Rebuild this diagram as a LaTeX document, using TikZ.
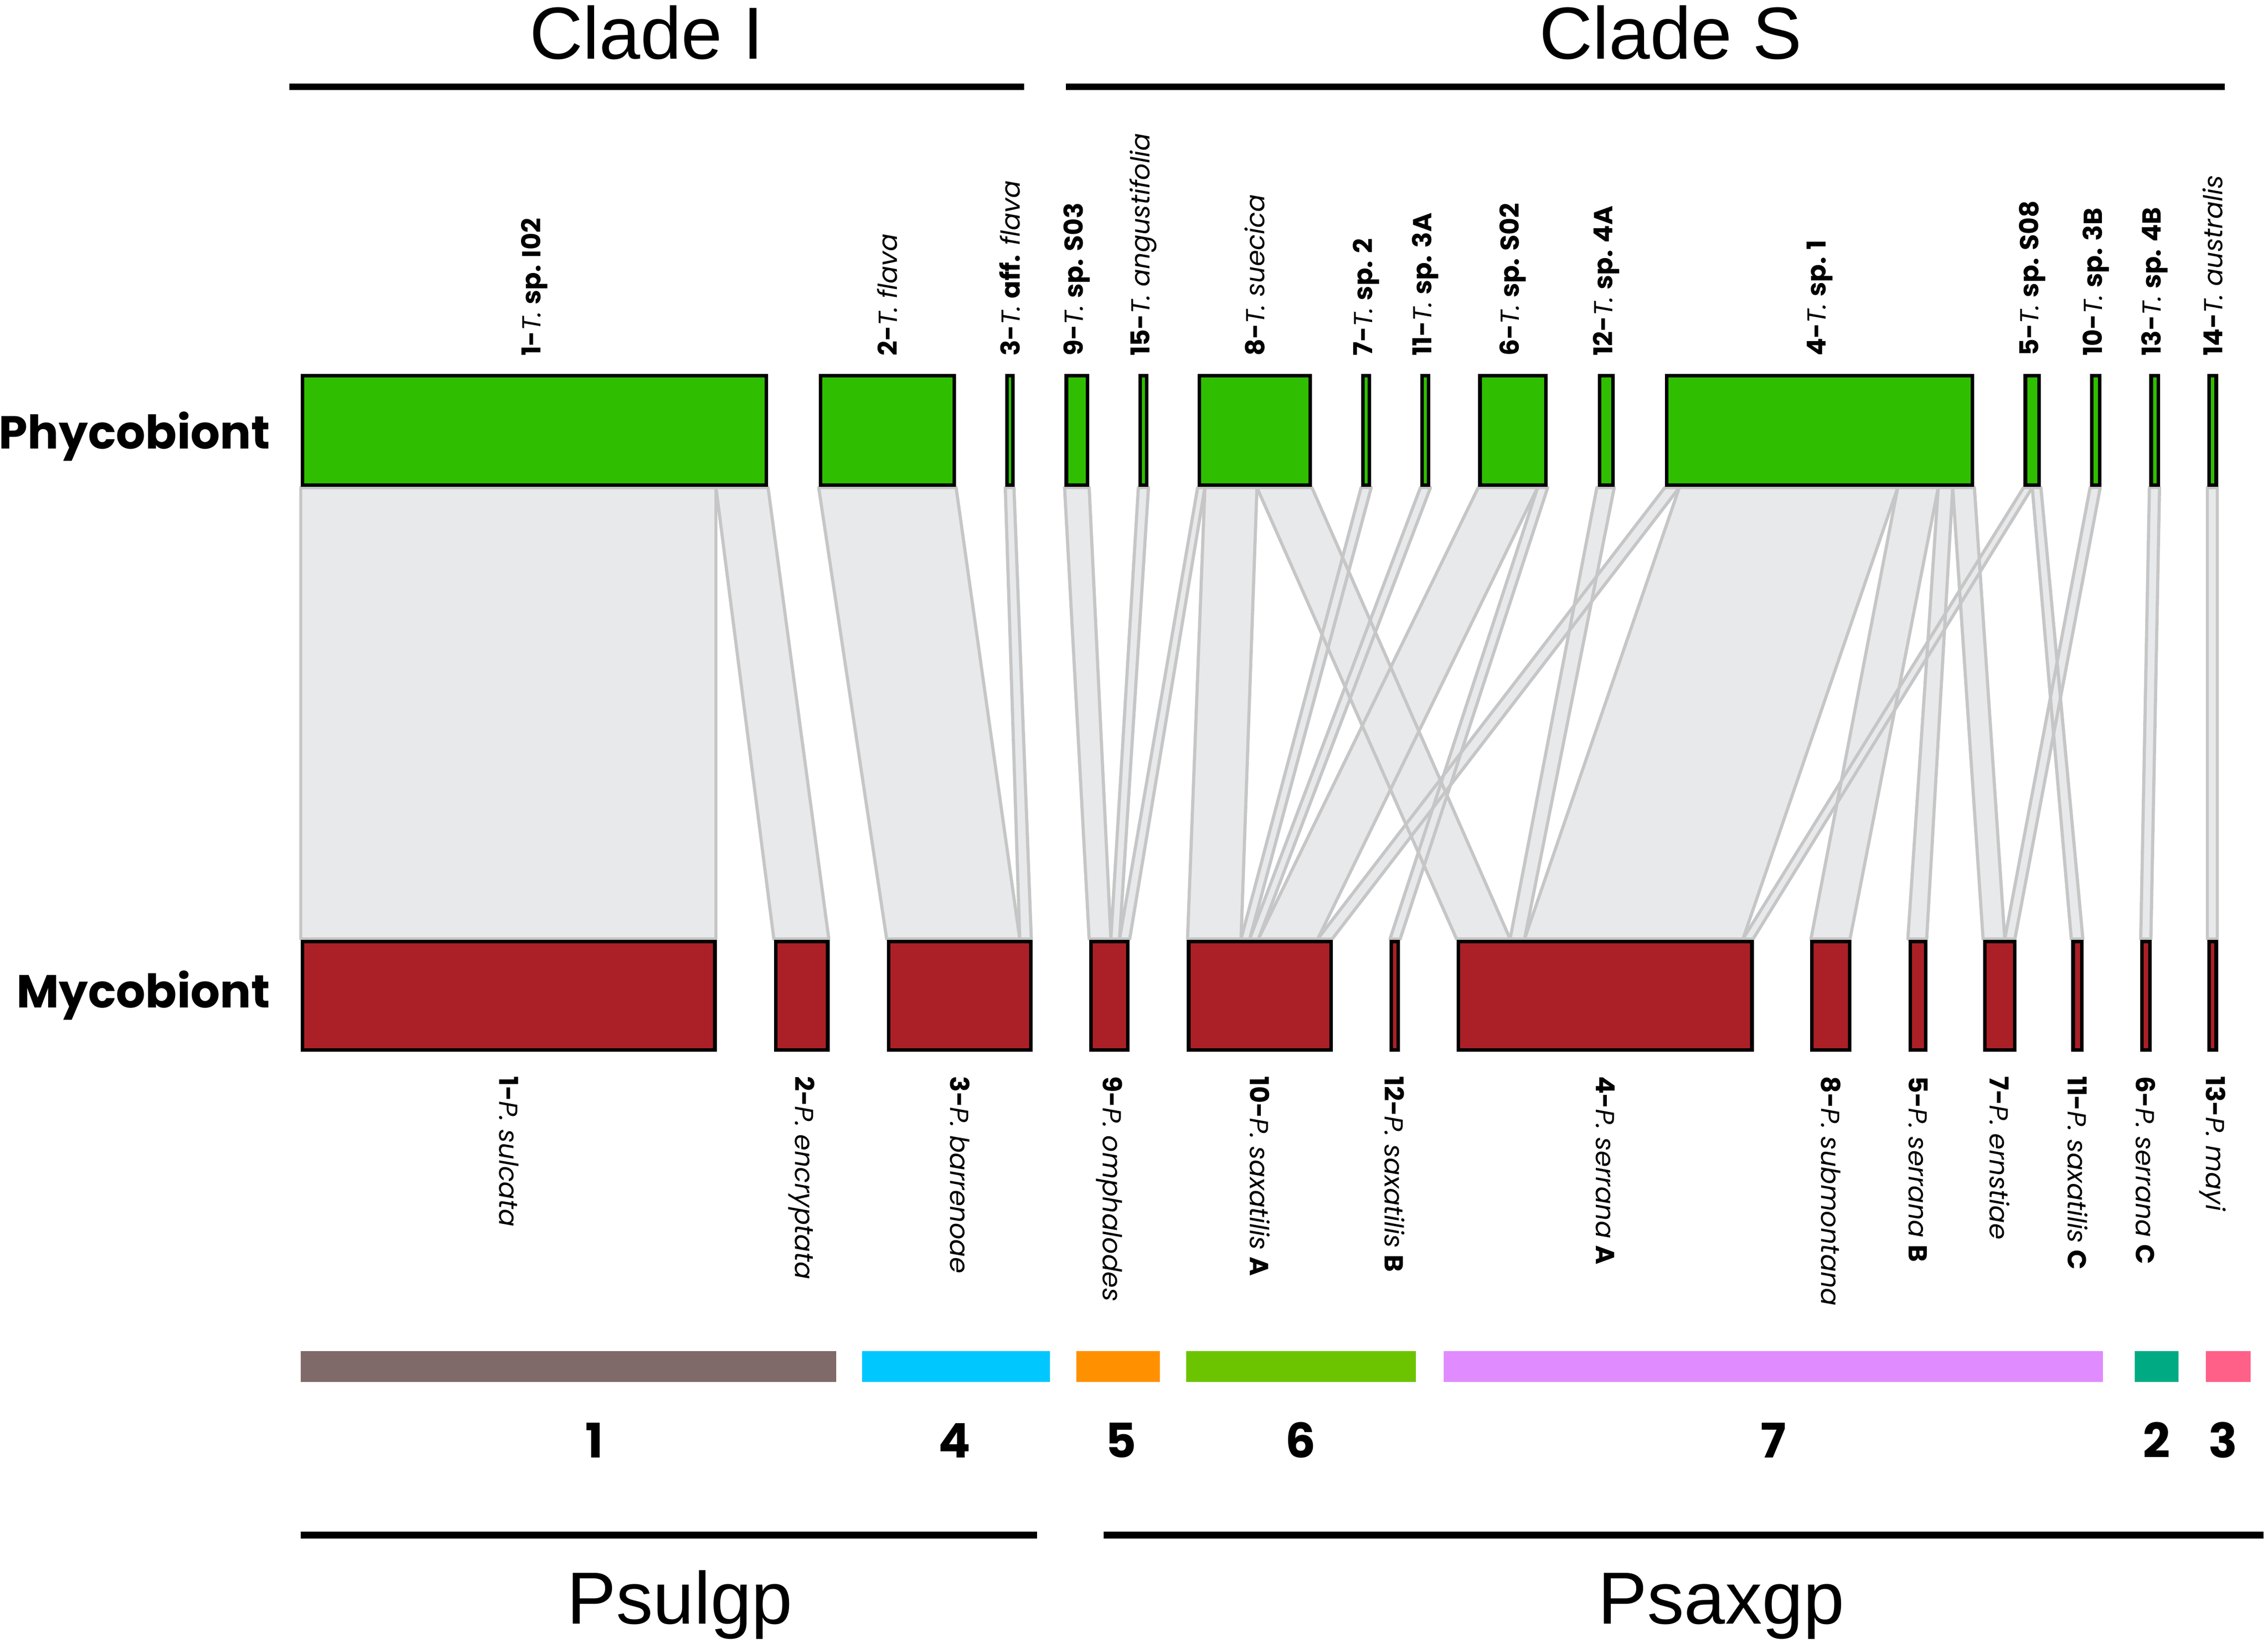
\documentclass[tikz,border=0pt]{standalone}
\usepackage{fontspec}
\setmainfont{Poppins}
\newfontfamily\arialf{Liberation Sans}
\definecolor{phg}{HTML}{2FBF00}
\definecolor{myr}{HTML}{AB2026}
\definecolor{ribf}{HTML}{E8E9EB}
\definecolor{ribl}{HTML}{C6C6C6}
\definecolor{cbrown}{HTML}{7F6A69}
\definecolor{ccyan}{HTML}{00C8FF}
\definecolor{corange}{HTML}{FF9100}
\definecolor{cgreen}{HTML}{6CC400}
\definecolor{cviolet}{HTML}{E08BFF}
\definecolor{cteal}{HTML}{00AB84}
\definecolor{cpink}{HTML}{FF6088}
\tikzset{
  gbox/.style={shape=rectangle, draw=black, line width=2.5pt, fill=phg, inner sep=0pt, outer sep=0pt, minimum height=75.5pt},
  rbox/.style={shape=rectangle, draw=black, line width=2.5pt, fill=myr, inner sep=0pt, outer sep=0pt, minimum height=75pt},
  toplab/.style={rotate=90, anchor=west, inner sep=0pt, font=\fontsize{18}{20}\selectfont},
  botlab/.style={rotate=-90, anchor=west, inner sep=0pt, font=\fontsize{18}{20}\selectfont},
  rowlab/.style={anchor=base east, inner sep=0pt, font=\fontsize{32}{35}\selectfont\bfseries},
  cladelab/.style={anchor=base, inner sep=0pt, font=\fontsize{51}{56}\selectfont\arialf},
  numlab/.style={anchor=base, inner sep=0pt, font=\fontsize{33}{36}\selectfont\bfseries},
  rule/.style={line width=4.5pt},
  bar/.style={shape=rectangle, inner sep=0pt, outer sep=0pt, minimum height=21pt, anchor=north west}
}
\newcommand\gb[3]{\node[gbox, minimum width={(#3-#2-2.5)*1pt}, anchor=north west] (#1) at ({#2+1.25},259.75) {};}
\newcommand\rb[3]{\node[rbox, minimum width={(#3-#2-2.5)*1pt}, anchor=north west] (#1) at ({#2+1.25},650.75) {};}
\newcommand\tl[2]{\node[toplab] (t#1) at ([yshift=13.5pt]#1.north) {#2};}
\newcommand\bl[2]{\node[botlab] (t#1) at ([yshift=-18pt]#1.south) {#2};}
\newcommand\rib[5]{\path[#1] (#2,337) -- (#3,337) -- (#5,649) -- (#4,649) -- cycle;}
\newcommand\allribs[1]{%
  \rib{#1}{208}{495}{208}{495}
  \rib{#1}{495}{531}{535}{573}
  \rib{#1}{566}{661}{613}{705}
  \rib{#1}{695}{701}{705}{713}
  \rib{#1}{736}{753}{753}{768}
  \rib{#1}{787}{794}{768}{774}
  \rib{#1}{828}{833}{774}{781}
  \rib{#1}{833}{869}{821}{858}
  \rib{#1}{869}{907}{1007}{1044}
  \rib{#1}{941}{948}{858}{864}
  \rib{#1}{982}{989}{864}{870}
  \rib{#1}{1022}{1063}{870}{911}
  \rib{#1}{1063}{1070}{961}{968}
  \rib{#1}{1104}{1116}{1044}{1054}
  \rib{#1}{1151}{1161}{911}{921}
  \rib{#1}{1161}{1312}{1054}{1205}
  \rib{#1}{1312}{1340}{1252}{1279}
  \rib{#1}{1340}{1350}{1319}{1332}
  \rib{#1}{1350}{1365}{1371}{1386}
  \rib{#1}{1399}{1405}{1205}{1212}
  \rib{#1}{1405}{1411}{1432}{1440}
  \rib{#1}{1445}{1452}{1386}{1393}
  \rib{#1}{1486}{1493}{1480}{1487}
  \rib{#1}{1526}{1533}{1526}{1533}
}
\begin{document}
\begin{tikzpicture}[x=1pt,y=-1pt]
\useasboundingbox (0,0) rectangle (1568,1135.6);
% clade titles and rules
\node[cladelab] (cladeI) at (447,40.6) {Clade I};
\node[cladelab] (cladeS) at (1155,40.6) {Clade S};
\coordinate (ci1) at (200,60); \coordinate (ci2) at (708,60);
\coordinate (cs1) at (737,60); \coordinate (cs2) at (1538,60);
\draw[rule] (ci1) -- (ci2);
\draw[rule] (cs1) -- (cs2);
% ribbons
\allribs{fill=ribf}
\allribs{draw=ribl, line width=2.2pt, line join=round}
% phycobiont boxes
\gb{g1}{208}{531}
\gb{g2}{566}{661}
\gb{g3}{695}{701.5}
\gb{g9}{736}{753}
\gb{g15}{787}{794}
\gb{g8}{828}{907}
\gb{g7}{941}{948}
\gb{g11}{982}{989}
\gb{g6}{1022}{1070}
\gb{g12}{1104.5}{1116.5}
\gb{g4}{1151}{1365}
\gb{g5}{1399}{1411}
\gb{g10}{1445}{1453}
\gb{g13}{1486}{1493.5}
\gb{g14}{1526}{1533.5}
% mycobiont boxes
\rb{r1}{208}{495.5}
\rb{r2}{535}{573.5}
\rb{r3}{613}{714}
\rb{r9}{753}{781}
\rb{r10}{820.5}{921.5}
\rb{r12}{960.5}{968}
\rb{r4}{1007}{1212.5}
\rb{r8}{1251.5}{1280}
\rb{r5}{1319.5}{1332.5}
\rb{r7}{1371}{1394}
\rb{r11}{1432}{1440.5}
\rb{r6}{1479.5}{1487.5}
\rb{r13}{1526}{1533.5}
% row labels
\node[rowlab] (phyco) at (187,310.3) {Phycobiont};
\node[rowlab] (myco) at (187,696.4) {Mycobiont};
% top labels
\tl{g1}{\textbf{1-}\textit{T.} \textbf{sp. I02}}
\tl{g2}{\textbf{2-}\textit{T. flava}}
\tl{g3}{\textbf{3-}\textit{T.} \textbf{aff.} \textit{flava}}
\tl{g9}{\textbf{9-}\textit{T.} \textbf{sp. S03}}
\tl{g15}{\textbf{15-}\textit{T. angustifolia}}
\tl{g8}{\textbf{8-}\textit{T. suecica}}
\tl{g7}{\textbf{7-}\textit{T.} \textbf{sp. 2}}
\tl{g11}{\textbf{11-}\textit{T.} \textbf{sp. 3A}}
\tl{g6}{\textbf{6-}\textit{T.} \textbf{sp. S02}}
\tl{g12}{\textbf{12-}\textit{T.} \textbf{sp. 4A}}
\tl{g4}{\textbf{4-}\textit{T.} \textbf{sp. 1}}
\tl{g5}{\textbf{5-}\textit{T.} \textbf{sp. S08}}
\tl{g10}{\textbf{10-}\textit{T.} \textbf{sp. 3B}}
\tl{g13}{\textbf{13-}\textit{T.} \textbf{sp. 4B}}
\tl{g14}{\textbf{14-}\textit{T. australis}}
% bottom labels
\bl{r1}{\textbf{1-}\textit{P. sulcata}}
\bl{r2}{\textbf{2-}\textit{P. encryptata}}
\bl{r3}{\textbf{3-}\textit{P. barrenoae}}
\bl{r9}{\textbf{9-}\textit{P. omphalodes}}
\bl{r10}{\textbf{10-}\textit{P. saxatilis} \textbf{A}}
\bl{r12}{\textbf{12-}\textit{P. saxatilis} \textbf{B}}
\bl{r4}{\textbf{4-}\textit{P. serrana} \textbf{A}}
\bl{r8}{\textbf{8-}\textit{P. submontana}}
\bl{r5}{\textbf{5-}\textit{P. serrana} \textbf{B}}
\bl{r7}{\textbf{7-}\textit{P. ernstiae}}
\bl{r11}{\textbf{11-}\textit{P. saxatilis} \textbf{C}}
\bl{r6}{\textbf{6-}\textit{P. serrana} \textbf{C}}
\bl{r13}{\textbf{13-}\textit{P. mayi}}
% group bars
\node[bar, fill=cbrown, minimum width=370pt] (b1) at (208,934) {};
\node[bar, fill=ccyan, minimum width=130pt] (b4) at (596,934) {};
\node[bar, fill=corange, minimum width=58pt] (b5) at (744,934) {};
\node[bar, fill=cgreen, minimum width=159pt] (b6) at (820,934) {};
\node[bar, fill=cviolet, minimum width=456pt] (b7) at (998,934) {};
\node[bar, fill=cteal, minimum width=30pt] (b2) at (1476,934) {};
\node[bar, fill=cpink, minimum width=31pt] (b3) at (1525,934) {};
% group numbers
\node[numlab] (n1) at (411,1007.6) {1};
\node[numlab] (n4) at (660,1007.6) {4};
\node[numlab] (n5) at (775,1007.6) {5};
\node[numlab] (n6) at (899,1007.6) {6};
\node[numlab] (n7) at (1226,1007.6) {7};
\node[numlab] (n2) at (1491,1007.6) {2};
\node[numlab] (n3) at (1537,1007.6) {3};
% bottom rules and group names
\coordinate (p1) at (208,1061); \coordinate (p2) at (717,1061);
\coordinate (q1) at (763,1061); \coordinate (q2) at (1565,1061);
\draw[rule] (p1) -- (p2);
\draw[rule] (q1) -- (q2);
\node[cladelab] (psul) at (470,1122.3) {Psulgp};
\node[cladelab] (psax) at (1190,1122.3) {Psaxgp};
\end{tikzpicture}
\end{document}
